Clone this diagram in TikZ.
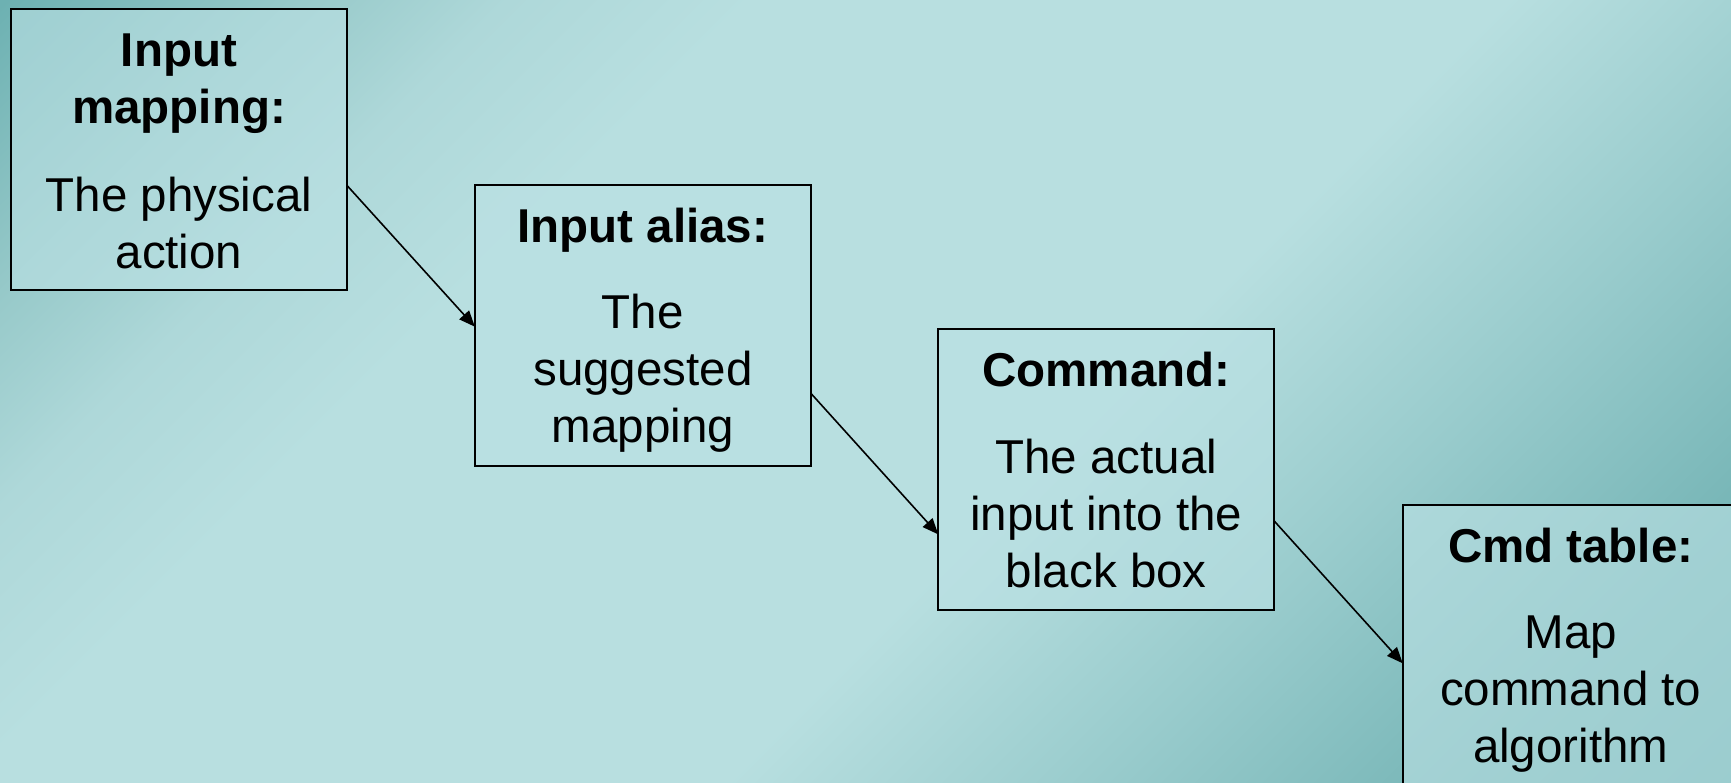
\documentclass[tikz,border=0pt]{standalone}
\usepackage{fontspec}
\setmainfont{Liberation Sans}
\usetikzlibrary{arrows.meta,calc}

% slide background: dark teal corners, light diagonal band
\definecolor{bgA}{HTML}{6DB1B2}
\definecolor{bgB}{HTML}{98CACA}
\definecolor{bgC}{HTML}{AED8D9}
\definecolor{bgD}{HTML}{B8DFE0}
\definecolor{bgE}{HTML}{98CBCC}
\definecolor{bgF}{HTML}{76B5B6}
\definecolor{bgG}{HTML}{66ABAC}
\definecolor{cardfill}{HTML}{BBE1E4}

\pgfdeclarehorizontalshading{slidebg}{100bp}{%
  color(0bp)=(bgA); color(14.6bp)=(bgA); color(23.1bp)=(bgB);
  color(28.8bp)=(bgC); color(35.8bp)=(bgD); color(57.1bp)=(bgD);
  color(67.7bp)=(bgE); color(78.3bp)=(bgF); color(85.4bp)=(bgG);
  color(100bp)=(bgG)}

\tikzset{
  card/.style={draw=black, line width=2pt, fill=cardfill, fill opacity=0.63,
    minimum width=336pt, minimum height=281pt, inner sep=0pt, outer sep=0pt},
  cardtext/.style={anchor=base, inner sep=0pt,
    font=\fontsize{47.5pt}{57pt}\selectfont},
  link/.style={line width=1.6pt, -{Triangle[length=16pt,width=13pt]}}
}

\begin{document}
\begin{tikzpicture}[x=1pt, y=-1pt]
  \useasboundingbox (0,0) rectangle (1731,783);
  \shade[shading=slidebg, shading angle=-45] (0,0) rectangle (1731,783);
  \clip (0,0) rectangle (1731,783);

  % the four stages
  \node[card] (b1) at (179,149.25) {};
  \node[card] (b2) at (642.85,325.2) {};
  \node[card] (b3) at (1106.3,469.2) {};
  \node[card] (b4) at (1570.7,645.2) {};

  \node[cardtext] (t1) at ($(b1.north)+(0,58)$)
    {\begin{tabular}[t]{@{}c@{}}\textbf{Input}\\\textbf{mapping:}\\[30.5pt]The physical\\action\end{tabular}};
  \node[cardtext] (t2) at ($(b2.north)+(0,58)$)
    {\begin{tabular}[t]{@{}c@{}}\textbf{Input alias:}\\[29pt]The\\suggested\\mapping\end{tabular}};
  \node[cardtext] (t3) at ($(b3.north)+(0,58)$)
    {\begin{tabular}[t]{@{}c@{}}\textbf{Command:}\\[29.5pt]The actual\\input into the\\black box\end{tabular}};
  \node[cardtext] (t4) at ($(b4.north)+(0,58)$)
    {\begin{tabular}[t]{@{}c@{}}\textbf{Cmd table:}\\[29pt]Map\\command to\\algorithm\end{tabular}};

  % connector end points on the box edges
  \coordinate (a1s) at ($(b1.north east)+(0,176.7)$);
  \coordinate (a1e) at ($(b2.north west)+(0,142)$);
  \coordinate (a2s) at ($(b2.north east)+(0,208.6)$);
  \coordinate (a2e) at ($(b3.north west)+(0,205.7)$);
  \coordinate (a3s) at ($(b3.north east)+(0,192.4)$);
  \coordinate (a3e) at ($(b4.north west)+(0,158.6)$);

  \draw[link] (a1s) -- (a1e);
  \draw[link] (a2s) -- (a2e);
  \draw[link] (a3s) -- (a3e);
\end{tikzpicture}
\end{document}
